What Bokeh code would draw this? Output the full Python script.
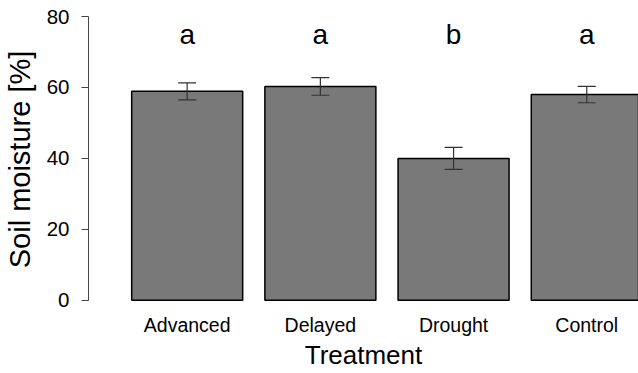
from bokeh.plotting import figure
from bokeh.models import Range1d, FixedTicker, ColumnDataSource, Whisker, TeeHead, LinearAxis
from bokeh.core.properties import value
from bokeh.embed import file_html
from bokeh.resources import INLINE

treatments = ["Advanced", "Delayed", "Drought", "Control"]
moisture = [58.9, 60.3, 40.0, 58.0]
se = [2.4, 2.5, 3.1, 2.3]
letters = ["a", "a", "b", "a"]

# barplot positions (width 1, space 0.2)
centers = [0.2 + 0.5 + i * 1.2 for i in range(len(treatments))]
lower = [m - s for m, s in zip(moisture, se)]
upper = [m + s for m, s in zip(moisture, se)]

src = ColumnDataSource(dict(x=centers, top=moisture, lower=lower, upper=upper,
                            lab=letters, ly=[75] * len(letters)))

FONT = "Liberation Sans"

p = figure(width=638, height=373, output_backend="svg", toolbar_location=None,
           x_range=Range1d(-0.189, 4.766), y_range=Range1d(-0.6, 80),
           min_border_left=88, min_border_right=0, min_border_top=16, min_border_bottom=71,
           x_axis_location=None, y_axis_location=None)
p.outline_line_color = None
p.xgrid.visible = False
p.ygrid.visible = False
p.background_fill_color = "white"
p.border_fill_color = "white"

p.vbar(x="x", top="top", bottom=0, width=1.0, source=src,
       fill_color="#797979", line_color="black", line_width=1.5)

w = Whisker(base="x", lower="lower", upper="upper", source=src,
            line_color="#333333", line_width=1.2, level="overlay",
            upper_head=TeeHead(size=18, line_color="#333333", line_width=1.2),
            lower_head=TeeHead(size=18, line_color="#333333", line_width=1.2))
p.add_layout(w)

p.text(x="x", y="ly", text="lab", source=src, text_align="center",
       text_baseline="middle", text_font=value(FONT), text_font_size="28px",
       text_color="black")

yaxis = LinearAxis(bounds=(0, 80), ticker=FixedTicker(ticks=[0, 20, 40, 60, 80]))
yaxis.axis_label = "Soil moisture [%]"
yaxis.axis_label_text_font = FONT
yaxis.axis_label_text_font_size = "29px"
yaxis.axis_label_text_font_style = "normal"
yaxis.axis_label_text_color = "black"
yaxis.axis_label_standoff = 8
yaxis.major_label_text_font = FONT
yaxis.major_label_text_font_size = "20.5px"
yaxis.major_label_text_color = "black"
yaxis.major_label_standoff = 12
yaxis.major_tick_out = 7
yaxis.major_tick_in = 0
yaxis.minor_tick_line_color = None
yaxis.axis_line_color = "#444444"
yaxis.major_tick_line_color = "#444444"
p.add_layout(yaxis, "left")

xaxis = LinearAxis(ticker=FixedTicker(ticks=centers),
                   major_label_overrides={c: t for c, t in zip(centers, treatments)})
xaxis.axis_line_color = None
xaxis.major_tick_line_color = None
xaxis.minor_tick_line_color = None
xaxis.major_tick_out = 0
xaxis.major_tick_in = 0
xaxis.major_label_text_font = FONT
xaxis.major_label_text_font_size = "19.5px"
xaxis.major_label_text_color = "black"
xaxis.major_label_standoff = 11
xaxis.axis_label = "Treatment"
xaxis.axis_label_text_font = FONT
xaxis.axis_label_text_font_size = "26px"
xaxis.axis_label_text_font_style = "normal"
xaxis.axis_label_text_color = "black"
xaxis.axis_label_standoff = 1
p.add_layout(xaxis, "below")

open("out.html", "w").write(file_html(p, INLINE))
